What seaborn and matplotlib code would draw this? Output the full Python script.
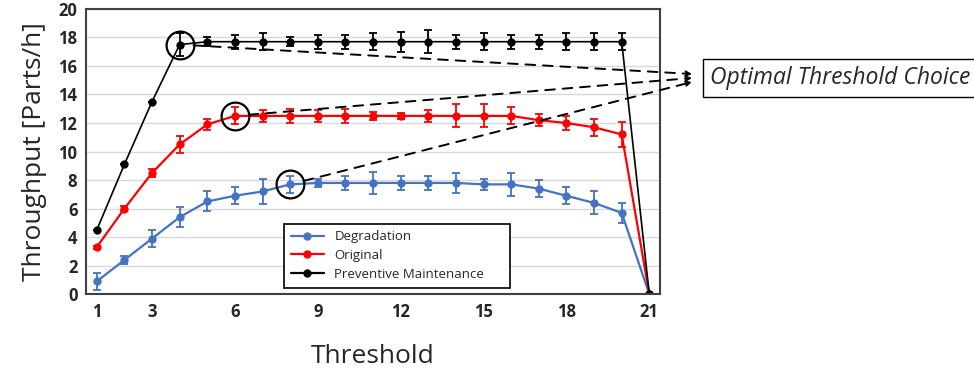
import pandas as pd
import matplotlib.pyplot as plt
import seaborn as sns

thresholds = list(range(1, 22))

degradation = [0.9, 2.4, 3.9, 5.4, 6.5, 6.9, 7.2, 7.7, 7.8, 7.8, 7.8, 7.8, 7.8, 7.8, 7.7, 7.7, 7.4, 6.9, 6.4, 5.7, 0.0]
degradation_err = [0.6, 0.3, 0.6, 0.7, 0.7, 0.6, 0.9, 0.6, 0.3, 0.5, 0.8, 0.5, 0.5, 0.7, 0.4, 0.8, 0.6, 0.6, 0.8, 0.7, 0.0]

original = [3.3, 6.0, 8.5, 10.5, 11.9, 12.5, 12.5, 12.5, 12.5, 12.5, 12.5, 12.5, 12.5, 12.5, 12.5, 12.5, 12.2, 12.0, 11.7, 11.2, 0.0]
original_err = [0.1, 0.2, 0.3, 0.6, 0.4, 0.6, 0.4, 0.5, 0.4, 0.5, 0.3, 0.2, 0.4, 0.8, 0.8, 0.6, 0.4, 0.5, 0.6, 0.9, 0.0]

preventive = [4.5, 9.1, 13.5, 17.5, 17.7, 17.7, 17.7, 17.7, 17.7, 17.7, 17.7, 17.7, 17.7, 17.7, 17.7, 17.7, 17.7, 17.7, 17.7, 17.7, 0.0]
preventive_err = [0.0, 0.0, 0.0, 0.8, 0.3, 0.5, 0.6, 0.3, 0.5, 0.5, 0.6, 0.7, 0.8, 0.5, 0.6, 0.5, 0.5, 0.6, 0.6, 0.6, 0.0]

series_names = ['Degradation', 'Original', 'Preventive Maintenance']
colors = ['#4472C4', '#FF0000', '#000000']
optimal = [8, 6, 4]  # threshold picked for each series

x_ticks = [1, 3, 6, 9, 12, 15, 18, 21]

df = pd.DataFrame({
    'Threshold': thresholds * 3,
    'Throughput': degradation + original + preventive,
    'Series': [n for n in series_names for _ in thresholds],
})

sns.set_style('white')
plt.rcParams['font.family'] = ['Open Sans', 'DejaVu Sans']

fig = plt.figure(figsize=(9.74, 3.71), dpi=100)
ax = fig.add_axes([0.088, 0.207, 0.59, 0.769])

sns.lineplot(data=df, x='Threshold', y='Throughput', hue='Series', hue_order=series_names,
             palette=colors, marker='o', markersize=6, markeredgewidth=0, linewidth=1.6, ax=ax)
# preventive drawn thinner, like the original
for line in ax.lines[2:3]:
    line.set_linewidth(1.2)

for vals, errs, c in zip([degradation, original, preventive],
                         [degradation_err, original_err, preventive_err], colors):
    ax.errorbar(thresholds, vals, yerr=errs, fmt='none', ecolor=c, elinewidth=1.3, capsize=3, capthick=1.3)

ax.set_xlim(0.6, 21.4)
ax.set_ylim(0, 20)
ax.set_yticks(range(0, 21, 2))
ax.set_xticks(x_ticks)
ax.yaxis.grid(True, color='#d9d9d9', linewidth=1)
ax.tick_params(axis='both', labelsize=12, length=0, pad=6)
for lbl in ax.get_xticklabels() + ax.get_yticklabels():
    lbl.set_fontweight('bold')
for sp in ax.spines.values():
    sp.set_color('#404040')
    sp.set_linewidth(1.5)

ax.set_xlabel('Threshold', fontsize=19, labelpad=17)
ax.set_ylabel('Throughput [Parts/h]', fontsize=19, labelpad=8)

leg = ax.legend(loc='lower left', bbox_to_anchor=(0.334, 0.0, 0.415, 0.246), mode='expand',
                fontsize=9.5, frameon=True, fancybox=False, framealpha=1, edgecolor='black',
                handlelength=2.5, borderpad=0.5, labelspacing=0.45)
leg.get_frame().set_linewidth(1.2)

# circles and dashed arrows towards the text box
series_vals = [degradation, original, preventive]
ends = [(692, 289), (692, 293), (692, 297)]
for vals, t, end in zip(series_vals, optimal, ends):
    y = vals[thresholds.index(t)]
    ax.plot([t], [y], marker='o', markersize=20, mfc='none', mec='black', mew=1.6, zorder=6)
    ax.annotate('', xy=end, xycoords='figure pixels', xytext=(t, y), textcoords='data',
                arrowprops=dict(arrowstyle='-|>', linestyle=(0, (5, 4)), color='black', lw=1.4,
                                shrinkA=10, shrinkB=0, mutation_scale=8),
                annotation_clip=False)

fig.text(0.729, 0.79, 'Optimal Threshold Choice', fontsize=16.5, style='italic', va='center', ha='left',
         bbox=dict(boxstyle='square,pad=0.3', fc='white', ec='black', lw=1))

plt.savefig('out.png', dpi=100)
